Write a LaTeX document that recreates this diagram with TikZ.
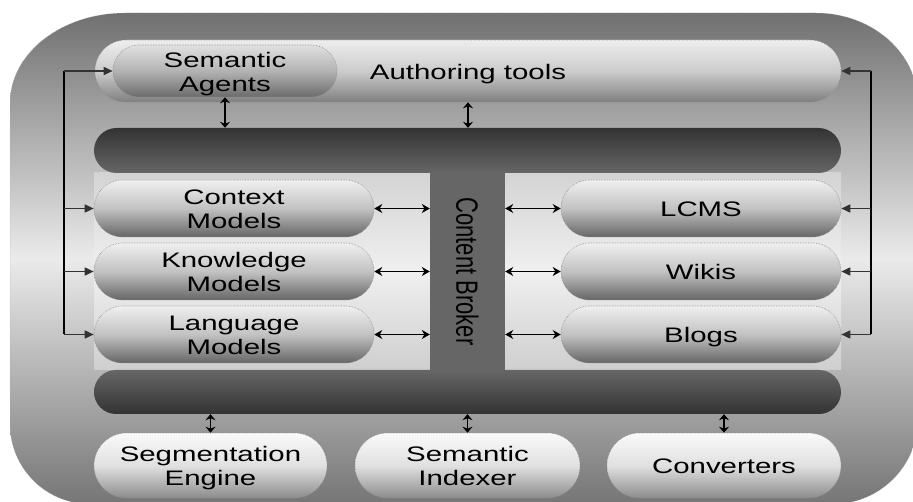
\documentclass[tikz,border=0pt]{standalone}
\usepackage{fontspec}
\setmainfont{Liberation Sans}
\usetikzlibrary{shapes.misc,arrows.meta}
\newcommand\widetext[1]{\raisebox{-3.5pt}[\height][\depth]{\scalebox{1.4}[1]{\begin{tabular}{@{}c@{}}#1\end{tabular}}}}
\begin{document}
\begin{tikzpicture}[x=1pt,y=-1pt,
  font=\fontsize{21}{24}\selectfont,
  outer/.style={top color=black!56, bottom color=black!54, middle color=black!8, draw=black!30, densely dotted, line width=0.5pt},
  panel/.style={top color=black!17, bottom color=black!19, middle color=black!6},
  pill/.style={rounded rectangle, inner sep=0pt, draw=black!45, densely dotted, line width=0.6pt, text=black},
  atool/.style={pill, top color=black!7, bottom color=black!50, middle color=black!20},
  agent/.style={pill, top color=black!12, bottom color=black!58, middle color=black!30},
  model/.style={pill, top color=black!6, bottom color=black!60, middle color=black!24, minimum width=280pt, minimum height=57pt},
  tool/.style={pill, top color=black!2, bottom color=black!45, middle color=black!12, minimum height=65pt},
  hbar/.style={rounded rectangle, inner sep=0pt, draw=none, minimum width=747pt},
  trunk/.style={line width=1.6pt, black},
  branch/.style={line width=1.6pt, black!80, -{Triangle[length=9pt,width=8pt]}},
  dbl/.style={line width=1.3pt, black, {Stealth[length=8pt,width=9pt]}-{Stealth[length=8pt,width=9pt]}},
  vdbl/.style={line width=1.5pt, black, {Stealth[length=6pt,width=10pt]}-{Stealth[length=6pt,width=10pt]}}
]
\useasboundingbox (0,0) rectangle (913,502);
\clip (0,0) rectangle (913,502);

% outer container
\path[outer] (10,103) arc[start angle=180,end angle=270,x radius=115,y radius=90]
  -- (816,13) arc[start angle=270,end angle=360,x radius=102,y radius=90]
  -- (918,419) arc[start angle=0,end angle=90,radius=85]
  -- (90,504) arc[start angle=90,end angle=180,radius=80] -- cycle;

% light panels
\fill[panel] (94,173) rectangle (430,370);
\fill[panel] (505,173) rectangle (841,370);

% content broker bars
\node[fill=black!60, inner sep=0pt, minimum width=75pt, minimum height=199pt] (cb) at (467.5,271.5)
  {\scalebox{1.4}[1]{\rotatebox{-90}{\fontsize{22}{24}\selectfont Content Broker}}};
\node[hbar, minimum height=45pt, top color=black!80, bottom color=black!60] (topbar) at (467.5,150.5) {};
\node[hbar, minimum height=44pt, top color=black!60, bottom color=black!80] (botbar) at (467.5,392) {};

% authoring tools
\node[atool, minimum width=746pt, minimum height=62pt] (at) at (468,71) {\widetext{Authoring tools}};
\node[agent, minimum width=224pt, minimum height=52pt] (sa) at (225,71) {\widetext{Semantic\\Agents}};

% models
\node[model] (ctx) at (234,208.5) {\widetext{Context\\Models}};
\node[model] (kno) at (234,271.5) {\widetext{Knowledge\\Models}};
\node[model] (lang) at (234,334.5) {\widetext{Language\\Models}};
\node[model] (lcms) at (701,208.5) {\widetext{LCMS}};
\node[model] (wikis) at (701,271.5) {\widetext{Wikis}};
\node[model] (blogs) at (701,334.5) {\widetext{Blogs}};

% bottom tools
\node[tool, minimum width=233pt] (seg) at (210.5,465.5) {\widetext{Segmentation\\Engine}};
\node[tool, minimum width=225pt] (idx) at (467.5,465.5) {\widetext{Semantic\\Indexer}};
\node[tool, minimum width=234pt] (conv) at (724,465.5) {\widetext{Converters}};

% trunks
\coordinate (lt) at (64,0);
\coordinate (rt) at (871,0);
\draw[trunk] (lt |- sa.west) -- (lt |- lang.west);
\draw[trunk] (rt |- at.east) -- (rt |- blogs.east);
\draw[branch] (lt |- sa.west) -- (sa.west);
\draw[branch] (lt |- ctx.west) -- (ctx.west);
\draw[branch] (lt |- kno.west) -- (kno.west);
\draw[branch] (lt |- lang.west) -- (lang.west);
\draw[branch] (rt |- at.east) -- (at.east);
\draw[branch] (rt |- lcms.east) -- (lcms.east);
\draw[branch] (rt |- wikis.east) -- (wikis.east);
\draw[branch] (rt |- blogs.east) -- (blogs.east);

% broker links
\draw[dbl] (ctx.east) -- (ctx.east -| cb.west);
\draw[dbl] (kno.east) -- (kno.east -| cb.west);
\draw[dbl] (lang.east) -- (lang.east -| cb.west);
\draw[dbl] (cb.east |- lcms.west) -- (lcms.west);
\draw[dbl] (cb.east |- wikis.west) -- (wikis.west);
\draw[dbl] (cb.east |- blogs.west) -- (blogs.west);

% vertical links
\draw[vdbl] (sa.south) -- (sa.south |- topbar.north);
\draw[vdbl] (at.south) -- (at.south |- topbar.north);
\draw[vdbl] (botbar.south -| seg.north) -- (seg.north);
\draw[vdbl] (botbar.south -| idx.north) -- (idx.north);
\draw[vdbl] (botbar.south -| conv.north) -- (conv.north);
\end{tikzpicture}
\end{document}
